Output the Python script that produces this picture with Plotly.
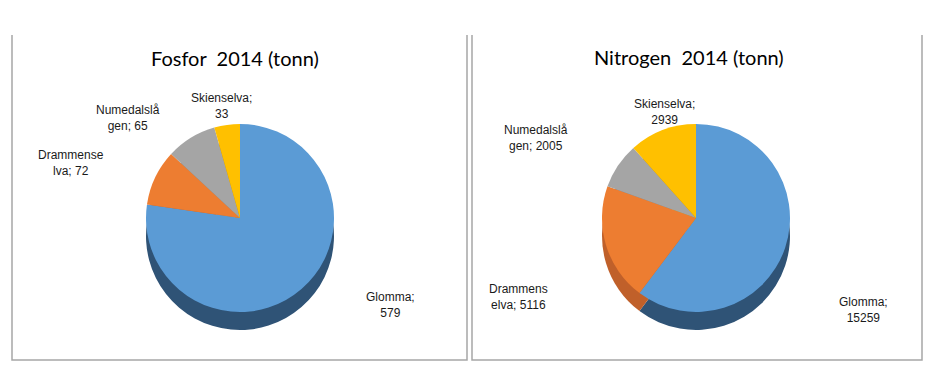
import plotly.graph_objects as go

# ---- data ----
rivers = ["Glomma", "Drammenselva", "Numedalslågen", "Skienselva"]
fosfor_2014 = [579, 72, 65, 33]
nitrogen_2014 = [15259, 5116, 2005, 2939]
fosfor_labels = ["Glomma;<br>579", "Drammense<br>lva; 72", "Numedalslå<br>gen; 65", "Skienselva;<br>33"]
nitrogen_labels = ["Glomma;<br>15259", "Drammens<br>elva; 5116", "Numedalslå<br>gen; 2005", "Skienselva;<br>2939"]
titles = ["Fosfor  2014 (tonn)", "Nitrogen  2014 (tonn)"]

top_colors = ["#5B9BD5", "#ED7D31", "#A5A5A5", "#FFC000"]
side_colors = ["#2F5376", "#C0602A", "#7F7F7F", "#BF9000"]

W, H = 944, 382
OFF = 8  # page body margin


def px(v):
    return (v - OFF) / W


def py(v):
    return 1 - (v - OFF) / H


fig = go.Figure()

# label anchor points (pixels) per panel, order as rivers
label_pos = [
    [(390, 305), (71, 163), (128, 118), (221, 106)],
    [(863, 310), (518, 297), (536, 138), (664, 112)],
]

panels = [
    (fosfor_2014, fosfor_labels, 240),
    (nitrogen_2014, nitrogen_labels, 696),
]
R = 94
CY = 218
DEPTH = 18

for (vals, labs, cx), lp in zip(panels, label_pos):
    xd = [px(cx - 200), px(cx + 200)]
    # side (depth) layer
    fig.add_trace(go.Pie(
        labels=rivers, values=vals, textinfo="none",
        marker=dict(colors=side_colors, line=dict(width=0)),
        sort=False, direction="clockwise", rotation=0,
        domain=dict(x=xd, y=[py(CY + R + DEPTH), py(CY - R + DEPTH)]),
        showlegend=False, hoverinfo="skip",
    ))
    # top face
    fig.add_trace(go.Pie(
        labels=rivers, values=vals, textinfo="none",
        marker=dict(colors=top_colors, line=dict(width=0)),
        sort=False, direction="clockwise", rotation=0,
        domain=dict(x=xd, y=[py(CY + R), py(CY - R)]),
        showlegend=False,
    ))
    for lab, (lx, ly) in zip(labs, lp):
        fig.add_annotation(text=lab, x=px(lx), y=py(ly), xref="paper", yref="paper",
                           xanchor="center", yanchor="middle", showarrow=False,
                           font=dict(size=12, family="Liberation Sans", color="#1a1a1a"))

# panel borders (open at top)
for x0, x1 in [(12, 467), (472, 922)]:
    fig.add_shape(type="path", xref="paper", yref="paper",
                  path=f"M {px(x0)} {py(35)} L {px(x0)} {py(360)} L {px(x1)} {py(360)} L {px(x1)} {py(35)}",
                  line=dict(color="#A6A6A6", width=1.5))

for t, (xc, yc) in zip(titles, [(235, 58), (689, 57)]):
    fig.add_annotation(text=t, x=px(xc), y=py(yc), xref="paper", yref="paper",
                       xanchor="center", yanchor="middle",
                       showarrow=False, font=dict(size=20, family="Lato", color="#000000"))

fig.update_layout(width=W, height=H,
                  margin=dict(l=0, r=0, t=0, b=0, pad=0, autoexpand=False),
                  paper_bgcolor="white", plot_bgcolor="white")
fig.write_html("out.html")
